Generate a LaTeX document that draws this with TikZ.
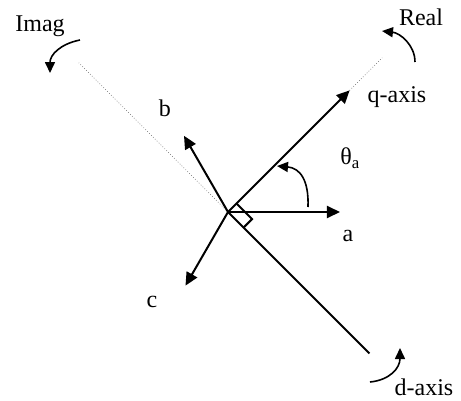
\documentclass[tikz,border=0pt]{standalone}
\usepackage{fontspec}
\setmainfont{Liberation Serif}
\usetikzlibrary{arrows.meta,positioning,calc}

\begin{document}
\begin{tikzpicture}[
    x=1pt, y=1pt,
    axisline/.style={line width=2pt, black},
    refline/.style={line width=0.7pt, black!60, dotted},
    vecarrow/.style={line width=2pt, -{Triangle[length=13pt, width=12pt]}},
    turnarrow/.style={line width=1.6pt, -{Triangle[length=11pt, width=10pt]}},
    lbl/.style={font=\fontsize{24}{28}\selectfont, inner sep=0pt}
  ]
  \useasboundingbox (-228,-188) rectangle (233,212);

  %% Origin and axis ends
  \coordinate (O) at (0,0);
  \coordinate (qtip) at (45:172);
  \coordinate (qend) at (45:218);
  \coordinate (imagend) at (135:211);
  \coordinate (dend) at (-45:200);

  %% Phase vectors
  \coordinate (atip) at (0:112);
  \coordinate (btip) at (120:88);
  \coordinate (ctip) at (240:85);

  %% Reference lines
  \draw[refline] (O) -- (imagend);
  \draw[refline] (qtip) -- (qend);

  %% q- and d-axis
  \draw[vecarrow] (O) -- (qtip);
  \draw[axisline] (O) -- (dend);

  \draw[vecarrow] (O) -- (atip);
  \draw[vecarrow] (O) -- (btip);
  \draw[vecarrow] (O) -- (ctip);

  %% Right angle mark
  \coordinate (rq) at (45:12);
  \coordinate (rd) at (-45:22);
  \draw[line width=2pt] (rq) -- ($(rq)+(rd)$) -- (rd);

  %% Angle and rotation arrows
  \coordinate (th1) at (80,5);
  \coordinate (th2) at (49,46);
  \draw[turnarrow] (th1) .. controls (81,32) and (72,44) .. (th2);

  \coordinate (im1) at (-148,172);
  \coordinate (im2) at (-178,139);
  \draw[turnarrow] (im1) .. controls (-168,168) and (-178,157) .. (im2);

  \coordinate (re1) at (187,150);
  \coordinate (re2) at (154,181);
  \draw[turnarrow] (re1) .. controls (187,167) and (172,179) .. (re2);

  \coordinate (d1) at (142,-170);
  \coordinate (d2) at (172,-136);
  \draw[turnarrow] (d1) .. controls (162,-168) and (172,-156) .. (d2);

  %% Labels
  \node[lbl] (imaglbl) at (-188,186) {Imag};
  \node[lbl] (reallbl) at (193,195) {Real};
  \node[lbl] (qlbl) at (169,115) {q-axis};
  \node[lbl] (thetalbl) at (122,54) {θ\textsubscript{a}};
  \node[lbl] (albl) at (120,-24) {a};
  \node[lbl] (blbl) at (-63,104) {b};
  \node[lbl] (clbl) at (-76,-90) {c};
  \node[lbl] (dlbl) at (196,-175) {d-axis};

\end{tikzpicture}
\end{document}
